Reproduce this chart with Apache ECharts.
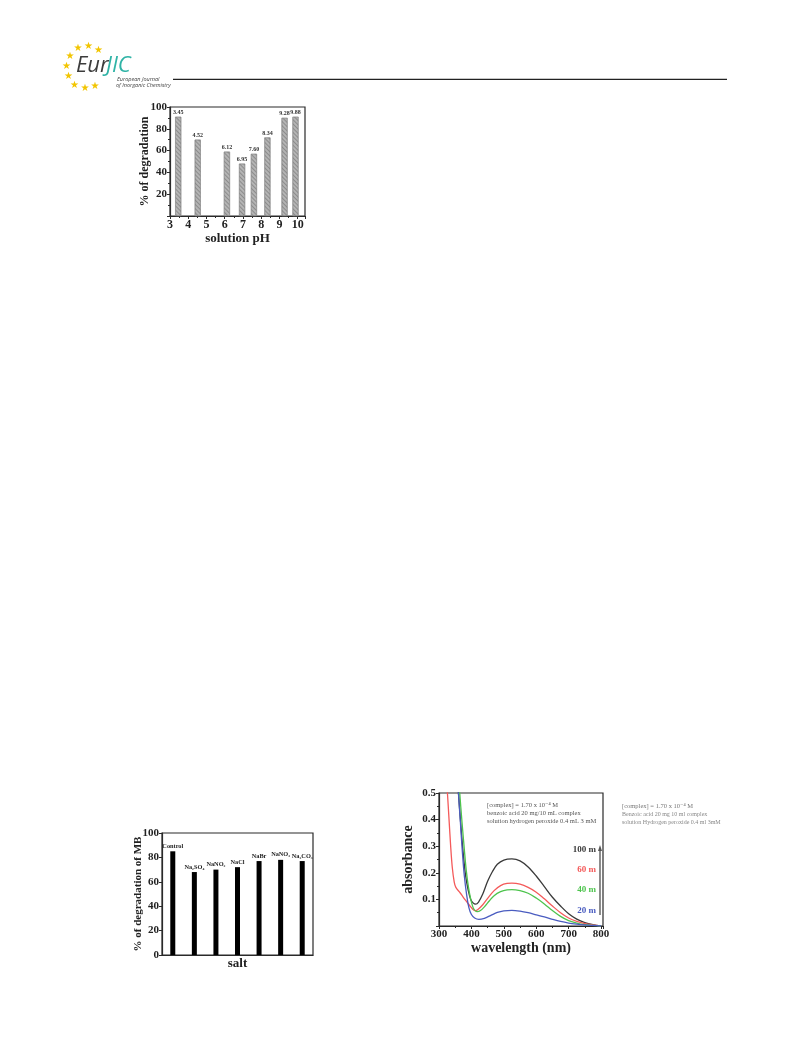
<!DOCTYPE html>
<html>
<head>
<meta charset="utf-8">
<title>Degradation and absorbance</title>
<script src="https://cdn.jsdelivr.net/npm/echarts@6/dist/echarts.min.js"></script>
<style>
  html, body { margin: 0; padding: 0; background: #ffffff; }
  #chart { width: 789px; height: 1057px; }
</style>
</head>
<body>
<div id="chart"></div>
<script>
// --- degradation vs solution pH ---
const phValues = [3.45, 4.52, 6.12, 6.95, 7.60, 8.34, 9.28, 9.88];
const phDegradation = [91, 70, 59, 48, 57, 72, 90, 91];

// --- degradation of MB with added salts ---
const salts = ['Control', 'Na₂SO₄', 'NaNO₂', 'NaCl', 'NaBr', 'NaNO₃', 'Na₂CO₃'];
const saltDegradation = [85, 68, 70, 72, 77, 78, 77];

// --- absorbance spectra, [wavelength (nm), absorbance] ---
const curve100m = [[352,0.65],[360,0.50],[368,0.37],[375,0.27],[382,0.19],[390,0.135],[398,0.10],[405,0.087],[413,0.082],[422,0.09],[435,0.12],[450,0.168],[465,0.205],[480,0.232],[500,0.248],[525,0.252],[550,0.245],[575,0.222],[600,0.188],[625,0.148],[650,0.108],[675,0.075],[700,0.046],[725,0.026],[750,0.013],[775,0.005],[800,0.0]];
const curve60m = [[318,0.65],[326,0.50],[331,0.40],[336,0.30],[341,0.22],[347,0.165],[352,0.145],[365,0.125],[375,0.108],[385,0.092],[395,0.076],[405,0.062],[412,0.058],[420,0.062],[435,0.08],[450,0.104],[470,0.133],[490,0.152],[510,0.160],[525,0.161],[550,0.157],[575,0.145],[600,0.127],[625,0.102],[650,0.075],[675,0.05],[700,0.03],[725,0.017],[750,0.009],[775,0.004],[800,0.0]];
const curve40m = [[356,0.65],[364,0.50],[371,0.39],[378,0.29],[384,0.21],[391,0.145],[398,0.10],[405,0.07],[412,0.057],[418,0.054],[428,0.058],[440,0.072],[455,0.094],[470,0.114],[490,0.129],[510,0.136],[525,0.137],[550,0.133],[575,0.123],[600,0.105],[625,0.083],[650,0.058],[675,0.036],[700,0.02],[725,0.011],[750,0.005],[775,0.002],[800,0.0]];
const curve20m = [[353,0.65],[360,0.50],[366,0.39],[372,0.28],[378,0.19],[385,0.12],[392,0.07],[400,0.043],[410,0.03],[423,0.025],[440,0.029],[460,0.040],[480,0.051],[500,0.057],[525,0.059],[550,0.056],[575,0.05],[600,0.042],[625,0.034],[650,0.025],[675,0.017],[700,0.011],[725,0.007],[750,0.004],[775,0.002],[800,0.0]];
const curveNames = ['100 m', '60 m', '40 m', '20 m'];
const curveColors = ['#3a3a3a', '#f45a5a', '#4ec44e', '#4a5cc0'];

const SERIF = '"Liberation Serif", "DejaVu Serif", serif';
const AXIS = '#2a2a2a';

function boxAxis(extra) {
  return Object.assign({
    axisLine: { show: true, lineStyle: { color: AXIS, width: 1.2 } },
    axisTick: { show: true, inside: false, length: 3, lineStyle: { color: AXIS } },
    minorTick: { show: true, splitNumber: 2, length: 2, lineStyle: { color: AXIS } },
    splitLine: { show: false },
    minorSplitLine: { show: false },
    nameMoveOverlap: false,
    axisLabel: { color: '#222', fontFamily: SERIF, fontWeight: 'bold', fontSize: 11, margin: 3 },
    nameTextStyle: { color: '#222', fontFamily: SERIF, fontWeight: 'bold', fontSize: 13 }
  }, extra);
}

const chart = echarts.init(document.getElementById('chart'), null, { renderer: 'canvas' });

const stars = [[78,48],[88.5,46],[98.5,50],[70,56],[66.5,66.5],[68.5,76.5],[74.5,85],[85,88.5],[95,86.5]];

const graphic = [
  // journal header rule
  { type: 'line', shape: { x1: 173, y1: 79.3, x2: 727, y2: 79.3 }, style: { stroke: '#222', lineWidth: 1.3 } },
  { type: 'text', style: { x: 76, y: 66, text: 'Eur', fontFamily: '"Open Sans", sans-serif', fontStyle: 'italic', fontSize: 22, fill: '#3c3c3c', verticalAlign: 'middle' } },
  { type: 'text', style: { x: 106, y: 66, text: 'JIC', fontFamily: '"Open Sans", sans-serif', fontStyle: 'italic', fontSize: 22, fill: '#2fb3a6', verticalAlign: 'middle' } },
  { type: 'text', style: { x: 117, y: 79, text: 'European Journal', fontFamily: '"Open Sans", sans-serif', fontStyle: 'italic', fontSize: 5.5, fill: '#444', verticalAlign: 'middle' } },
  { type: 'text', style: { x: 116, y: 85, text: 'of Inorganic Chemistry', fontFamily: '"Open Sans", sans-serif', fontStyle: 'italic', fontSize: 5.5, fill: '#444', verticalAlign: 'middle' } },
  // spectra notes
  { type: 'text', style: { x: 487, y: 805.5, text: '[complex] = 1.70 x 10⁻⁴ M', fontFamily: SERIF, fontSize: 6.5, fill: '#555', verticalAlign: 'middle' } },
  { type: 'text', style: { x: 487, y: 813.7, text: 'benzoic acid 20 mg/10 mL complex', fontFamily: SERIF, fontSize: 6.5, fill: '#555', verticalAlign: 'middle' } },
  { type: 'text', style: { x: 487, y: 821.5, text: 'solution hydrogen peroxide 0.4 mL 3 mM', fontFamily: SERIF, fontSize: 6.5, fill: '#555', verticalAlign: 'middle' } },
  { type: 'text', style: { x: 622, y: 806, text: '[complex] = 1.70 x 10⁻⁴ M', fontFamily: SERIF, fontSize: 6.5, fill: '#777', verticalAlign: 'middle' } },
  { type: 'text', style: { x: 622, y: 814.3, text: 'Benzoic acid 20 mg 10 ml complex', fontFamily: SERIF, fontSize: 6, fill: '#888', verticalAlign: 'middle' } },
  { type: 'text', style: { x: 622, y: 822.3, text: 'solution Hydrogen peroxide 0.4 ml 3mM', fontFamily: SERIF, fontSize: 6, fill: '#888', verticalAlign: 'middle' } },
  // time arrow beside the spectra labels
  { type: 'line', shape: { x1: 600, y1: 915, x2: 600, y2: 849 }, style: { stroke: '#666', lineWidth: 1.5 } },
  { type: 'polygon', shape: { points: [[600, 845], [598, 851], [602, 851]] }, style: { fill: '#555' } }
];

stars.forEach(function (p) {
  graphic.push({ type: 'text', style: { x: p[0], y: p[1], text: '★', fontFamily: '"DejaVu Sans", sans-serif', fontSize: 10, fill: '#f2c500', align: 'center', verticalAlign: 'middle' } });
});

const labelY = [850, 870, 889.5, 910.5];
curveNames.forEach(function (n, i) {
  graphic.push({ type: 'text', style: { x: 596, y: labelY[i], text: n, fontFamily: SERIF, fontWeight: 'bold', fontSize: 9, fill: curveColors[i], align: 'right', verticalAlign: 'middle' } });
});

const option = {
  backgroundColor: '#ffffff',
  animation: false,
  graphic: graphic,
  grid: [
    { left: 170, top: 107, width: 135, height: 109, show: true, borderColor: AXIS, borderWidth: 1.2, backgroundColor: 'transparent' },
    { left: 162, top: 833, width: 151, height: 122, show: true, borderColor: AXIS, borderWidth: 1.2, backgroundColor: 'transparent' },
    { left: 439, top: 793, width: 164, height: 133, show: true, borderColor: AXIS, borderWidth: 1.2, backgroundColor: 'transparent' }
  ],
  xAxis: [
    boxAxis({
      gridIndex: 0, type: 'value', min: 3, max: 10.4, interval: 1,
      name: 'solution pH', nameLocation: 'middle', nameGap: 14, nameMoveOverlap: true,
      axisLabel: { color: '#222', fontFamily: SERIF, fontWeight: 'bold', fontSize: 12, margin: 3,
        formatter: function (v) { return Number.isInteger(v) ? String(v) : ''; } }
    }),
    boxAxis({
      gridIndex: 1, type: 'category', data: salts, boundaryGap: true,
      name: 'salt', nameLocation: 'middle', nameGap: 2,
      axisTick: { show: false }, minorTick: { show: false },
      axisLabel: { show: false },
      nameTextStyle: { color: '#222', fontFamily: SERIF, fontWeight: 'bold', fontSize: 13 }
    }),
    boxAxis({
      gridIndex: 2, type: 'value', min: 300, max: 806, interval: 100,
      name: 'wavelength (nm)', nameLocation: 'middle', nameGap: 11, nameMoveOverlap: true,
      axisLabel: { color: '#222', fontFamily: SERIF, fontWeight: 'bold', fontSize: 11, margin: 3,
        formatter: function (v) { return v % 100 === 0 ? String(v) : ''; } },
      nameTextStyle: { color: '#222', fontFamily: SERIF, fontWeight: 'bold', fontSize: 14 }
    })
  ],
  yAxis: [
    boxAxis({
      gridIndex: 0, type: 'value', min: 0, max: 100, interval: 20,
      name: '% of degradation', nameLocation: 'middle', nameGap: 19,
      axisLabel: { color: '#222', fontFamily: SERIF, fontWeight: 'bold', fontSize: 11, margin: 3,
        formatter: function (v) { return v === 0 ? '' : String(v); } },
      nameTextStyle: { color: '#222', fontFamily: SERIF, fontWeight: 'bold', fontSize: 12 }
    }),
    boxAxis({
      gridIndex: 1, type: 'value', min: 0, max: 100, interval: 20,
      name: '% of degradation of MB', nameLocation: 'middle', nameGap: 18,
      minorTick: { show: false },
      axisLabel: { color: '#222', fontFamily: SERIF, fontWeight: 'bold', fontSize: 11, margin: 3 },
      nameTextStyle: { color: '#222', fontFamily: SERIF, fontWeight: 'bold', fontSize: 11 }
    }),
    boxAxis({
      gridIndex: 2, type: 'value', min: 0, max: 0.5, interval: 0.1,
      name: 'absorbance', nameLocation: 'middle', nameGap: 24,
      axisLabel: { color: '#222', fontFamily: SERIF, fontWeight: 'bold', fontSize: 11, margin: 3,
        formatter: function (v) { return v === 0 ? '' : v.toFixed(1); } },
      nameTextStyle: { color: '#222', fontFamily: SERIF, fontWeight: 'bold', fontSize: 14 }
    })
  ],
  series: [
    {
      type: 'bar', xAxisIndex: 0, yAxisIndex: 0, barWidth: 6,
      data: phValues.map(function (p, i) { return [p, phDegradation[i]]; }),
      itemStyle: {
        color: '#b4b4b4', borderColor: '#8a8a8a', borderWidth: 0.5,
        decal: { symbol: 'rect', symbolSize: 1, dashArrayX: [1, 0], dashArrayY: [1, 2], rotation: Math.PI / 4, color: 'rgba(90,90,90,0.45)' }
      },
      label: {
        show: true, position: 'top', distance: 1,
        fontFamily: SERIF, fontWeight: 'bold', fontSize: 6, color: '#333',
        formatter: function (p) { return p.value[0].toFixed(2); }
      }
    },
    {
      type: 'bar', xAxisIndex: 1, yAxisIndex: 1, barWidth: 5,
      data: saltDegradation,
      itemStyle: { color: '#000000' },
      label: {
        show: true, position: 'top', distance: 2,
        fontFamily: SERIF, fontWeight: 'bold', fontSize: 6.3, color: '#222',
        formatter: function (p) { return p.name; }
      }
    }
  ].concat([curve100m, curve60m, curve40m, curve20m].map(function (d, i) {
    return {
      type: 'line', name: curveNames[i], xAxisIndex: 2, yAxisIndex: 2,
      data: d, smooth: 0.35, showSymbol: false, clip: true,
      lineStyle: { color: curveColors[i], width: 1.3 }
    };
  }))
};

chart.setOption(option);
</script>
</body>
</html>
